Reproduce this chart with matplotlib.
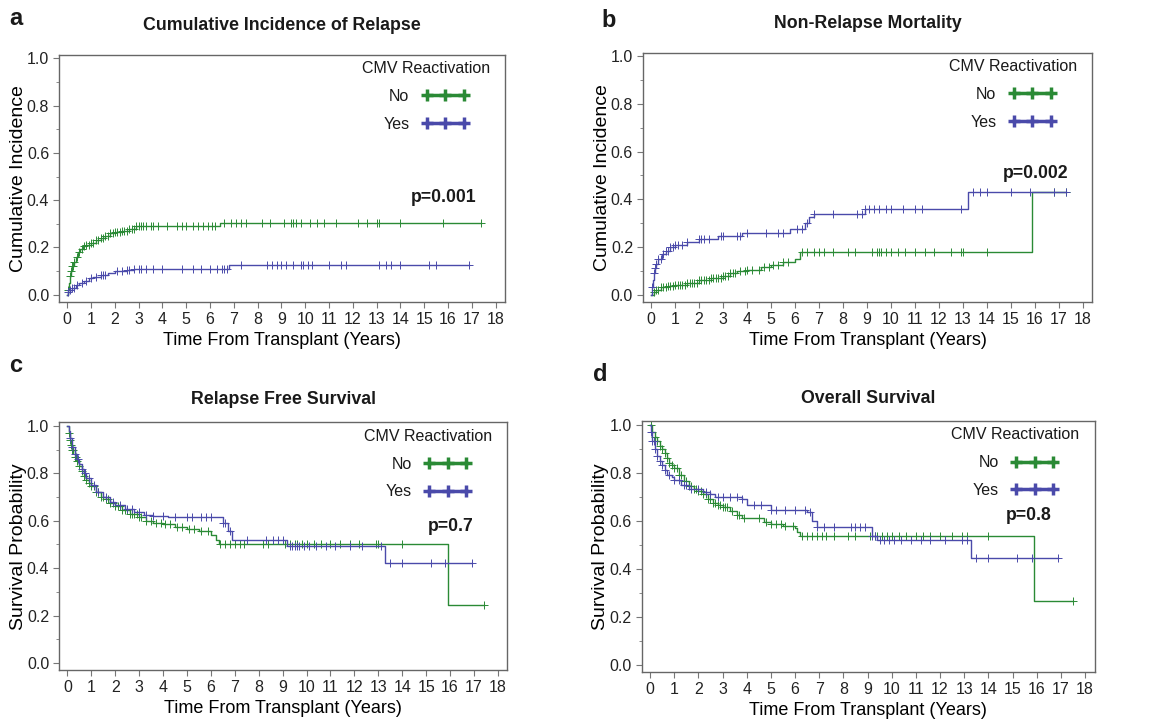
"""Four-panel CMV reactivation outcomes: CIR, NRM, RFS, OS (step curves with censor ticks)."""
import numpy as np
import matplotlib
matplotlib.use("Agg")
import matplotlib.pyplot as plt
from matplotlib.lines import Line2D
from matplotlib.ticker import MultipleLocator, FormatStrFormatter

plt.rcParams.update({"font.family": ["Liberation Sans", "DejaVu Sans"], "text.color": "#1a1a1a"})

GREEN = "#2a8a35"
BLUE = "#4a4aaa"

# ---- a: cumulative incidence of relapse ----
cir_no_t = [0, 0.03, 0.06, 0.1, 0.15, 0.2, 0.28, 0.36, 0.45, 0.55, 0.65, 0.8, 1.0, 1.2, 1.4, 1.6,
            1.8, 2.0, 2.3, 2.6, 2.9, 6.4]
cir_no_v = [0, 0.02, 0.05, 0.08, 0.10, 0.12, 0.14, 0.16, 0.18, 0.195, 0.205, 0.21, 0.22, 0.23, 0.24,
            0.25, 0.26, 0.265, 0.27, 0.28, 0.29, 0.305]
cir_no_cens = [0.05, 0.1, 0.15, 0.2, 0.25, 0.3, 0.4, 0.5, 0.6, 0.7, 0.8, 0.9, 1.0, 1.1, 1.2, 1.3,
               1.4, 1.5, 1.6, 1.7, 1.8, 1.9, 2.0, 2.1, 2.2, 2.3, 2.4, 2.5, 2.6, 2.7, 2.8, 2.9, 3.0,
               3.1, 3.2, 3.3, 3.5, 3.6, 3.8, 4.2, 4.6, 4.8, 5.0, 5.3, 5.5, 5.7, 5.9, 6.1, 6.2, 6.6,
               6.9, 7.1, 7.3, 7.5, 8.2, 8.5, 9.1, 9.4, 9.5, 9.6, 9.8, 10.2, 10.5, 10.8, 11.3, 12.2,
               12.6, 13.0, 13.1, 14.0, 15.8, 17.4]
cir_yes_t = [0, 0.05, 0.1, 0.2, 0.35, 0.5, 0.7, 0.9, 1.1, 1.4, 1.7, 2.0, 2.5, 2.8, 6.8]
cir_yes_v = [0, 0.01, 0.02, 0.03, 0.04, 0.05, 0.06, 0.07, 0.075, 0.085, 0.09, 0.10, 0.105, 0.11, 0.125]
cir_yes_cens = [0.05, 0.1, 0.2, 0.3, 0.4, 0.6, 0.8, 1.0, 1.2, 1.4, 1.5, 1.6, 2.1, 2.3, 2.5, 2.6,
                2.8, 3.0, 3.1, 3.3, 3.6, 4.0, 4.8, 5.3, 5.6, 6.0, 6.3, 6.5, 6.6, 6.7, 7.3, 8.4, 8.6,
                8.8, 9.0, 9.2, 9.5, 9.8, 9.9, 10.1, 10.3, 11.0, 11.5, 11.7, 13.1, 13.4, 13.6, 14.0,
                15.2, 15.5, 16.9]

# ---- b: non-relapse mortality ----
nrm_no_t = [0, 0.1, 0.2, 0.4, 0.7, 1.0, 1.5, 2.0, 2.5, 3.0, 3.3, 3.6, 4.0, 4.6, 5.0, 5.5, 6.0, 6.2, 15.9]
nrm_no_v = [0, 0.01, 0.02, 0.03, 0.035, 0.042, 0.05, 0.06, 0.07, 0.08, 0.09, 0.10, 0.105, 0.115,
            0.125, 0.135, 0.15, 0.18, 0.43]
nrm_no_cens = [0.1, 0.2, 0.3, 0.4, 0.5, 0.6, 0.7, 0.8, 0.9, 1.0, 1.1, 1.2, 1.3, 1.4, 1.5, 1.6, 1.7,
               1.8, 1.9, 2.0, 2.1, 2.2, 2.3, 2.4, 2.5, 2.6, 2.7, 2.8, 2.9, 3.0, 3.1, 3.2, 3.3, 3.4,
               3.5, 3.7, 3.9, 4.0, 4.2, 4.5, 4.7, 4.9, 5.1, 5.3, 5.5, 5.7, 6.3, 6.5, 6.8, 7.0, 7.2,
               7.6, 8.2, 8.5, 9.2, 9.4, 9.5, 9.6, 9.8, 10.0, 10.3, 10.6, 11.0, 11.4, 11.8, 12.5,
               12.9, 13.0, 14.0, 16.8, 17.3]
nrm_yes_t = [0, 0.03, 0.06, 0.1, 0.15, 0.2, 0.3, 0.45, 0.6, 0.8, 1.0, 1.5, 2.0, 2.8, 3.8, 5.8, 6.4,
             6.6, 6.8, 8.9, 13.2]
nrm_yes_v = [0, 0.03, 0.06, 0.09, 0.11, 0.13, 0.15, 0.17, 0.185, 0.20, 0.21, 0.22, 0.235, 0.245,
             0.26, 0.275, 0.30, 0.325, 0.34, 0.36, 0.43]
nrm_yes_cens = [0.05, 0.1, 0.15, 0.2, 0.3, 0.4, 0.5, 0.6, 0.7, 0.8, 0.9, 1.0, 1.1, 1.3, 1.5, 2.0,
                2.1, 2.2, 2.4, 2.9, 3.0, 3.6, 3.7, 4.0, 4.8, 5.3, 5.5, 6.1, 6.3, 6.5, 6.8, 7.6, 8.6,
                8.8, 8.9, 9.1, 9.3, 9.5, 9.8, 10.0, 10.5, 11.0, 11.3, 12.9, 13.4, 13.7, 14.0, 15.0,
                15.8, 16.8, 17.3]

# ---- c: relapse free survival ----
rfs_no_t = [0, 0.05, 0.1, 0.15, 0.2, 0.3, 0.4, 0.5, 0.6, 0.7, 0.8, 0.9, 1.0, 1.2, 1.4, 1.6, 1.8,
            2.0, 2.3, 2.6, 3.0, 3.3, 3.6, 4.0, 4.5, 5.0, 5.5, 6.0, 6.2, 6.35, 15.9]
rfs_no_v = [1.0, 0.97, 0.94, 0.92, 0.90, 0.87, 0.85, 0.83, 0.81, 0.79, 0.77, 0.76, 0.745, 0.72,
            0.70, 0.69, 0.675, 0.66, 0.645, 0.63, 0.615, 0.60, 0.59, 0.585, 0.575, 0.565, 0.555,
            0.54, 0.52, 0.50, 0.245]
rfs_no_cens = [0.05, 0.1, 0.15, 0.2, 0.25, 0.3, 0.35, 0.4, 0.5, 0.6, 0.7, 0.8, 0.9, 1.0, 1.1, 1.2,
               1.3, 1.4, 1.5, 1.6, 1.7, 1.8, 1.9, 2.0, 2.1, 2.2, 2.3, 2.4, 2.5, 2.6, 2.7, 2.8, 2.9,
               3.0, 3.1, 3.3, 3.5, 3.7, 3.9, 4.1, 4.3, 4.6, 4.8, 5.1, 5.3, 5.6, 5.9, 6.4, 6.6, 6.8,
               7.0, 7.2, 7.4, 8.2, 8.4, 9.1, 9.3, 9.5, 9.6, 9.8, 10.0, 10.3, 10.6, 11.0, 11.4, 11.8,
               12.2, 12.9, 13.0, 14.0, 17.4]
rfs_yes_t = [0, 0.05, 0.1, 0.2, 0.3, 0.4, 0.5, 0.6, 0.7, 0.8, 1.0, 1.2, 1.5, 1.8, 2.0, 2.4, 2.8,
             3.2, 3.6, 4.2, 6.5, 6.7, 6.9, 9.2, 13.3]
rfs_yes_v = [1.0, 0.98, 0.95, 0.91, 0.88, 0.86, 0.84, 0.82, 0.80, 0.78, 0.75, 0.72, 0.70, 0.68,
             0.665, 0.65, 0.635, 0.625, 0.62, 0.615, 0.59, 0.555, 0.52, 0.495, 0.42]
rfs_yes_cens = [0.1, 0.2, 0.3, 0.45, 0.6, 0.75, 0.9, 1.1, 1.3, 1.6, 1.9, 2.2, 2.5, 2.7, 3.0, 3.3,
                3.6, 4.0, 4.5, 5.0, 5.2, 5.6, 5.8, 6.0, 6.5, 6.6, 6.8, 7.5, 8.3, 8.6, 8.8, 9.0, 9.3,
                9.4, 9.5, 9.6, 9.7, 9.9, 10.1, 10.4, 10.8, 11.2, 11.8, 12.3, 13.1, 13.5, 14.0, 15.2,
                15.8, 16.9]

# ---- d: overall survival ----
os_no_t = [0, 0.1, 0.2, 0.3, 0.4, 0.5, 0.6, 0.7, 0.8, 0.9, 1.0, 1.2, 1.4, 1.6, 1.8, 2.0, 2.2, 2.4,
           2.6, 2.8, 3.0, 3.3, 3.6, 3.8, 4.7, 5.0, 5.5, 6.0, 6.1, 6.2, 15.9]
os_no_v = [1.0, 0.97, 0.95, 0.93, 0.91, 0.90, 0.88, 0.86, 0.84, 0.83, 0.82, 0.79, 0.765, 0.745,
           0.73, 0.725, 0.71, 0.69, 0.675, 0.665, 0.655, 0.64, 0.625, 0.61, 0.595, 0.585, 0.58,
           0.57, 0.555, 0.535, 0.265]
os_no_cens = [0.05, 0.1, 0.2, 0.3, 0.4, 0.5, 0.6, 0.7, 0.8, 0.9, 1.0, 1.1, 1.2, 1.3, 1.4, 1.5, 1.6,
              1.7, 1.8, 1.9, 2.0, 2.1, 2.2, 2.3, 2.4, 2.5, 2.6, 2.7, 2.8, 2.9, 3.0, 3.1, 3.2, 3.4,
              3.6, 3.7, 3.9, 4.5, 4.8, 5.0, 5.2, 5.4, 5.6, 5.9, 6.3, 6.5, 6.7, 6.9, 7.1, 7.3, 7.6,
              8.2, 8.5, 9.1, 9.3, 9.4, 9.6, 9.8, 10.0, 10.3, 10.6, 11.0, 11.3, 11.6, 12.0, 12.5,
              12.9, 13.1, 14.0, 17.5]
os_yes_t = [0, 0.05, 0.1, 0.2, 0.3, 0.4, 0.5, 0.6, 0.7, 0.9, 1.0, 1.3, 1.6, 2.2, 2.5, 2.7, 3.8, 4.0,
            5.0, 6.5, 6.7, 6.9, 9.2, 9.4, 13.3]
os_yes_v = [1.0, 0.97, 0.93, 0.90, 0.87, 0.85, 0.83, 0.81, 0.79, 0.78, 0.77, 0.75, 0.73, 0.72, 0.71,
            0.70, 0.69, 0.665, 0.645, 0.635, 0.60, 0.575, 0.535, 0.52, 0.445]
os_yes_cens = [0.05, 0.1, 0.15, 0.2, 0.3, 0.4, 0.5, 0.6, 0.8, 1.0, 1.2, 1.4, 1.5, 1.7, 2.0, 2.3, 2.5,
               2.8, 3.0, 3.3, 3.6, 3.8, 4.3, 4.6, 5.0, 5.2, 5.6, 6.0, 6.4, 6.6, 6.9, 7.2, 7.6, 8.3,
               8.5, 8.7, 8.9, 9.2, 9.3, 9.5, 9.7, 9.9, 10.1, 10.4, 10.8, 11.2, 11.6, 12.2, 12.9,
               13.1, 13.5, 14.0, 15.2, 15.8, 16.9]

panels = [
    ("a", "Cumulative Incidence of Relapse", "Cumulative Incidence", "p=0.001", (17.2, 0.41),
     (cir_no_t, cir_no_v, cir_no_cens), (cir_yes_t, cir_yes_v, cir_yes_cens),
     [0.051, 0.582, 0.386, 0.342]),
    ("b", "Non-Relapse Mortality", "Cumulative Incidence", "p=0.002", (17.4, 0.51),
     (nrm_no_t, nrm_no_v, nrm_no_cens), (nrm_yes_t, nrm_yes_v, nrm_yes_cens),
     [0.556, 0.582, 0.389, 0.345]),
    ("c", "Relapse Free Survival", "Survival Probability", "p=0.7", (17.0, 0.575),
     (rfs_no_t, rfs_no_v, rfs_no_cens), (rfs_yes_t, rfs_yes_v, rfs_yes_cens),
     [0.051, 0.072, 0.388, 0.343]),
    ("d", "Overall Survival", "Survival Probability", "p=0.8", (16.6, 0.62),
     (os_no_t, os_no_v, os_no_cens), (os_yes_t, os_yes_v, os_yes_cens),
     [0.555, 0.069, 0.392, 0.348]),
]


def km(ax, t, v, cens, color):
    t, v, cens = np.asarray(t), np.asarray(v), np.asarray(cens)
    tt = np.append(t, cens.max())
    vv = np.append(v, v[-1])
    ax.step(tt, vv, where="post", color=color, lw=1.0)
    cv = v[np.searchsorted(t, cens, side="right") - 1]   # curve value at each censor time
    ax.plot(cens, cv, ls="none", marker="+", ms=6, mew=0.7, color=color)


fig = plt.figure(figsize=(11.56, 7.22), dpi=100)
letter_pos = {"a": (0.008, 0.990), "b": (0.520, 0.988), "c": (0.008, 0.510), "d": (0.513, 0.497)}

for letter, title, ylab, ptxt, ppos, no, yes, rect in panels:
    ax = fig.add_axes(rect)
    km(ax, *no, GREEN)
    km(ax, *yes, BLUE)
    ax.set_xlim(-0.35, 18.4)
    ax.set_ylim(-0.03, 1.015)
    ax.xaxis.set_major_locator(MultipleLocator(1))
    ax.yaxis.set_major_locator(MultipleLocator(0.2))
    ax.yaxis.set_minor_locator(MultipleLocator(0.1))
    ax.yaxis.set_major_formatter(FormatStrFormatter("%.1f"))
    ax.tick_params(labelsize=11.5, color="#777777", length=4, pad=3, labelcolor="#222222")
    ax.tick_params(which="minor", length=2.5, color="#777777")
    for s in ax.spines.values():
        s.set_color("#666666")
        s.set_linewidth(1.0)
    ax.set_xlabel("Time From Transplant (Years)", fontsize=13, labelpad=4)
    ax.set_ylabel(ylab, fontsize=14, labelpad=0)
    ax.set_title(title, fontsize=12.8, fontweight="bold", pad=18 if letter in "ab" else 13)
    ax.text(ppos[0], ppos[1], ptxt, ha="right", va="center", fontsize=12.7, fontweight="bold")
    handles = [Line2D([0], [0], color=GREEN, lw=2.5, marker="+", ms=9, mew=2.5),
               Line2D([0], [0], color=BLUE, lw=2.5, marker="+", ms=9, mew=2.5)]
    ax.legend(handles, ["No", "Yes"], title="CMV Reactivation", loc="upper right",
              bbox_to_anchor=(0.98, 1.0), borderaxespad=0.0,
              markerfirst=False, frameon=False, numpoints=3, handlelength=2.9, fontsize=11.5,
              title_fontsize=11.5, alignment="center", labelspacing=0.8)
    fig.text(*letter_pos[letter], letter, fontsize=17, fontweight="bold", ha="left", va="top")

fig.savefig("out.png", dpi=100)
